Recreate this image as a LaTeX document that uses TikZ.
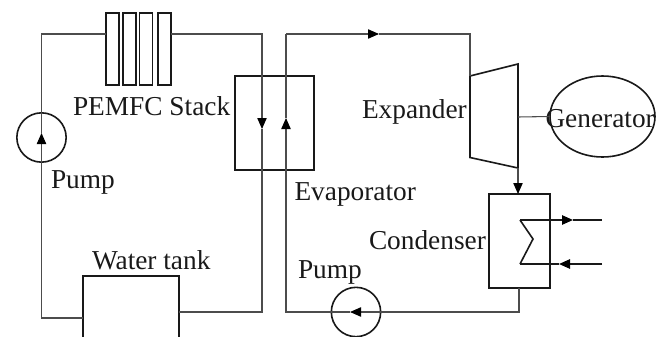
\documentclass[tikz,border=0pt]{standalone}
\usepackage{fontspec}
\setmainfont{Liberation Serif}
\usepackage{tikz}
\usetikzlibrary{arrows.meta,shapes.geometric}

\begin{document}
\begin{tikzpicture}[x=0.75pt,y=-0.75pt,>={Triangle[length=8.25pt,width=7pt,color=black]},
    every node/.style={inner sep=0pt,outer sep=0pt},
    pipe/.style={line width=0.8pt,black!70},
    wall/.style={draw,line width=1.2pt,black!90},
    cell/.style={wall,minimum width=9.9pt,minimum height=54pt},
    pumpbody/.style={wall,circle,minimum size=37pt},
    txt/.style={anchor=base west,font=\fontsize{20.5}{24}\selectfont,text=black!90}]
    \clip (0,0) rectangle (664,336);

    % components
    \node[cell] (cell-1) at (112.5,49) {};
    \node[cell] (cell-2) at (129.5,49) {};
    \node[cell] (cell-3) at (146,49) {};
    \node[cell] (cell-4) at (164.5,49) {};
    \node[pumpbody] (pump-1) at (41.5,137.5) {};
    \node[pumpbody] (pump-2) at (356,312) {};
    \node[wall,minimum width=72pt,minimum height=60pt,anchor=north west] (tank) at (83,276) {};
    \node[wall,minimum width=59.25pt,minimum height=70.5pt,anchor=north west] (evap) at (235,76) {};
    \node[wall,minimum width=45.75pt,minimum height=70.5pt,anchor=north west] (cond) at (489,194) {};
    \node[wall,ellipse,minimum width=78.75pt,minimum height=60.75pt] (gen) at (602.5,116.5) {};

    % labels
    \node[txt] (stack-label) at (73,115) {PEMFC Stack};
    \node[txt] (pump-1-label) at (51,188) {Pump};
    \node[txt] (tank-label) at (92,269) {Water tank};
    \node[txt] (evap-label) at (294.5,200) {Evaporator};
    \node[txt] (exp-label) at (362,118) {Expander};
    \node[txt] (gen-label) at (545.5,127) {Generator};
    \node[txt] (cond-label) at (369,249) {Condenser};
    \node[txt] (pump-2-label) at (298,278) {Pump};

    % junctions
    \coordinate (stack-in) at (106,34);
    \coordinate (stack-out) at (171,34);
    \coordinate (tank-in) at (83,318);
    \coordinate (tank-out) at (179,312);
    \coordinate (pump-1-tip) at (41.5,133);
    \coordinate (down-tip) at (262,129);
    \coordinate (up-tip) at (286,118);
    \coordinate (top-corner) at (286,34);
    \coordinate (top-tip) at (379,34);
    \coordinate (exp-a) at (470,76);
    \coordinate (exp-b) at (518,64);
    \coordinate (exp-c) at (518,168);
    \coordinate (exp-d) at (470,157.5);
    \coordinate (exp-shaft) at (518,117);
    \coordinate (pump-2-tip) at (350,312);
    \coordinate (cond-in) at (518,194);
    \coordinate (cond-out) at (519,288);
    \coordinate (coil-a) at (520,220);
    \coordinate (coil-b) at (533,239);
    \coordinate (coil-c) at (520,264);
    \coordinate (hot-tip) at (573,220);
    \coordinate (hot-end) at (602,220);
    \coordinate (cold-tip) at (559,264);
    \coordinate (cold-end) at (602,264);

    % expander and coil
    \draw[wall] (exp-a) -- (exp-b) -- (exp-c) -- (exp-d) -- cycle;
    \draw[wall] (coil-a) -- (coil-b) -- (coil-c);

    % water loop
    \draw[pipe] (tank-in) -| (pump-1.south);
    \draw[pipe,->] (pump-1.south) -- (pump-1-tip);
    \draw[pipe] (pump-1-tip) -- (pump-1.north);
    \draw[pipe] (pump-1.north) |- (stack-in);
    \draw[pipe,->] (stack-out) -| (down-tip);
    \draw[pipe] (down-tip) |- (tank-out);

    % working fluid loop
    \draw[pipe] (cond-out) |- (pump-2.east);
    \draw[pipe,->] (pump-2.east) -- (pump-2-tip);
    \draw[pipe] (pump-2-tip) -- (pump-2.west);
    \draw[pipe,->] (pump-2.west) -| (up-tip);
    \draw[pipe] (up-tip) -- (top-corner);
    \draw[pipe,->] (top-corner) -- (top-tip);
    \draw[pipe] (top-tip) -| (exp-a);
    \draw[pipe,->] (exp-c) -- (cond-in);
    \draw[pipe] (exp-shaft) -- (gen.west);

    % cooling water
    \draw[wall,->] (coil-a) -- (hot-tip);
    \draw[wall] (hot-tip) -- (hot-end);
    \draw[wall,->] (cold-end) -- (cold-tip);
    \draw[wall] (cold-tip) -- (coil-c);
\end{tikzpicture}
\end{document}
